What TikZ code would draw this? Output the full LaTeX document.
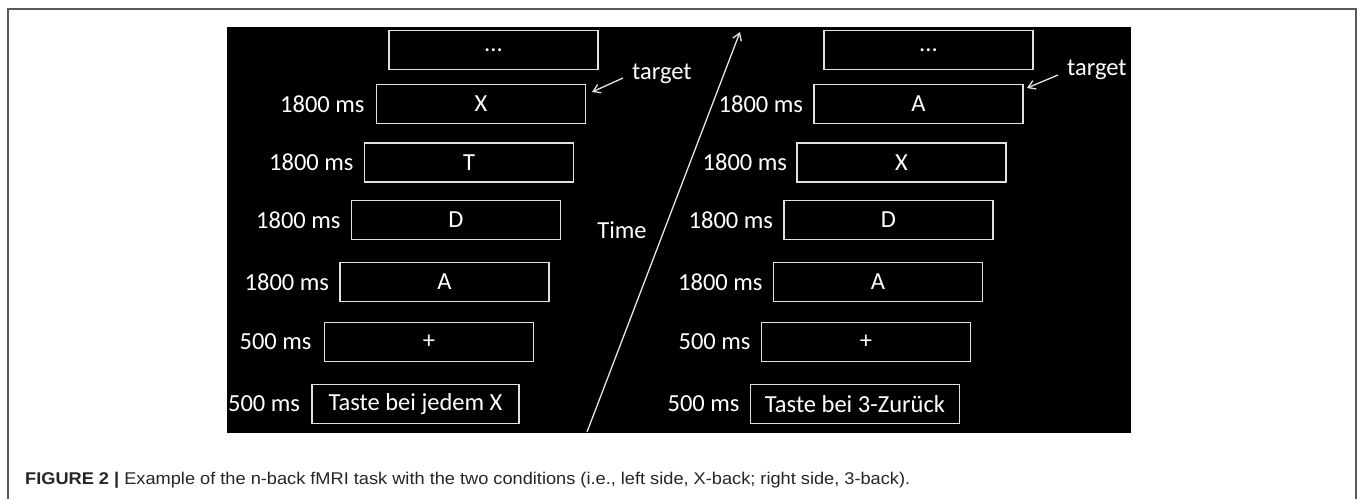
\documentclass[tikz,border=0pt]{standalone}
\usepackage{fontspec}
\usepackage{graphicx}
\setmainfont{Carlito}
\newfontfamily\capfont{Liberation Sans}
\usetikzlibrary{arrows.meta}
\tikzset{
  trial/.style={draw=white!88!black, line width=1.5pt, minimum width=209pt, minimum height=39pt, inner sep=0pt, text=white, font=\fontsize{24.5}{29}\selectfont},
  dur/.style={text=white, anchor=east, inner sep=0pt, font=\fontsize{24.5}{29}\selectfont},
  lbl/.style={text=white, inner sep=0pt, font=\fontsize{24.5}{29}\selectfont},
  wline/.style={draw=white!90!black, line width=1.3pt},
  tip/.style={-{Straight Barb[length=7pt,width=9pt,line width=1.3pt]}},
}
\begin{document}
\begin{tikzpicture}[x=1pt,y=-1pt]
\useasboundingbox (0,0) rectangle (1358,499);
\fill[white] (0,0) rectangle (1358,499);
% frame
\draw[black!65, line width=1.4pt] (8,499) -- (8,9) -- (1356,9) -- (1356,499);
% black panel
\fill[black] (227,27) rectangle (1131,433);
% left column
\node[trial] (l0) at (493.5,50) {...};
\node[trial] (l1) at (481,104) {X};
\node[trial] (l2) at (469,162.5) {T};
\node[trial] (l3) at (456,220) {D};
\node[trial] (l4) at (444.5,282) {A};
\node[trial] (l5) at (429,342) {+};
\node[trial, minimum width=207pt] (l6) at (415.5,404) {Taste bei jedem X};
\node[dur] at ([xshift=-11pt]l1.west) {1800 ms};
\node[dur] at ([xshift=-10pt]l2.west) {1800 ms};
\node[dur] at ([xshift=-10pt]l3.west) {1800 ms};
\node[dur] at ([xshift=-10pt]l4.west) {1800 ms};
\node[dur] at ([xshift=-12pt]l5.west) {500 ms};
\node[dur] at ([xshift=-11pt]l6.west) {500 ms};
% right column
\node[trial] (r0) at (928.5,50) {...};
\node[trial] (r1) at (918.5,104) {A};
\node[trial] (r2) at (901.5,162.5) {X};
\node[trial] (r3) at (888.5,220) {D};
\node[trial] (r4) at (878,282) {A};
\node[trial] (r5) at (866,342) {+};
\node[trial] (r6) at (855,404) {Taste bei 3-Zurück};
\node[dur] at ([xshift=-10pt]r1.west) {1800 ms};
\node[dur] at ([xshift=-9pt]r2.west) {1800 ms};
\node[dur] at ([xshift=-10pt]r3.west) {1800 ms};
\node[dur] at ([xshift=-10pt]r4.west) {1800 ms};
\node[dur] at ([xshift=-10pt]r5.west) {500 ms};
\node[dur] at ([xshift=-10pt]r6.west) {500 ms};
% targets
\node[lbl, anchor=west] (tl) at (632,74) {target};
\node[lbl, anchor=west] (tr) at (1067,70) {target};
\coordinate (tla) at (623,78);
\coordinate (tlb) at (592,92);
\coordinate (tra) at (1058,75);
\coordinate (trb) at (1027,88);
\draw[wline, tip] (tla) -- (tlb);
\draw[wline, tip] (tra) -- (trb);
% time axis
\coordinate (t0) at (587,432);
\coordinate (t1) at (740,32);
\draw[wline, tip] (t0) -- (t1);
\node[lbl] (time) at (622,230) {Time};
% caption
\node[anchor=base west, inner sep=0pt, text=black!85] (cap) at (25,484)
  {\resizebox{885pt}{\height}{\capfont\fontsize{17}{20}\selectfont\textbf{FIGURE 2 |} Example of the n-back fMRI task with the two conditions (i.e., left side, X-back; right side, 3-back).}};
\end{tikzpicture}
\end{document}
